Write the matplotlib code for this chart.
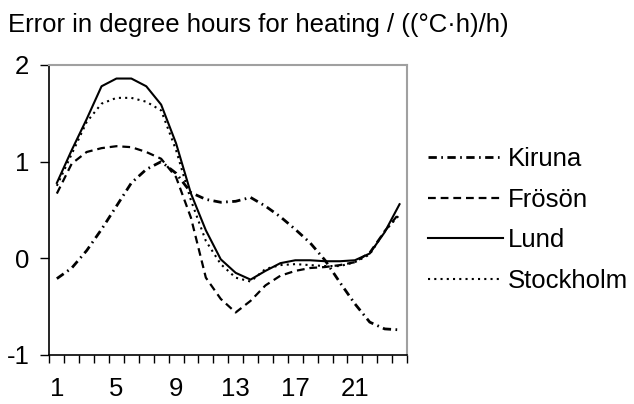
import matplotlib
matplotlib.use("Agg")
import matplotlib.pyplot as plt
from matplotlib.ticker import FixedLocator, NullFormatter

plt.rcParams['font.family'] = ['Liberation Sans', 'DejaVu Sans']

hours = list(range(1, 25))
hour_labels = [1, 5, 9, 13, 17, 21]

kiruna = [-0.21, -0.10, 0.08, 0.30, 0.54, 0.78, 0.92, 1.00, 0.88, 0.68, 0.61, 0.58,
          0.59, 0.63, 0.54, 0.43, 0.30, 0.16, -0.02, -0.25, -0.47, -0.66, -0.73, -0.74]
froson = [0.67, 0.98, 1.10, 1.14, 1.16, 1.15, 1.10, 1.03, 0.84, 0.42, -0.20, -0.42,
          -0.56, -0.44, -0.28, -0.18, -0.13, -0.10, -0.09, -0.07, -0.04, 0.06, 0.28, 0.47]
lund = [0.78, 1.12, 1.44, 1.78, 1.86, 1.86, 1.78, 1.59, 1.19, 0.67, 0.29, -0.01,
        -0.15, -0.22, -0.13, -0.05, -0.02, -0.02, -0.03, -0.03, -0.02, 0.05, 0.27, 0.56]
stockholm = [0.75, 1.08, 1.41, 1.60, 1.66, 1.66, 1.62, 1.53, 1.12, 0.60, 0.18, -0.06,
             -0.20, -0.24, -0.11, -0.07, -0.06, -0.07, -0.08, -0.08, -0.04, 0.04, 0.28, 0.45]

fs = 18.5

fig = plt.figure(figsize=(6.34, 4.04), dpi=100)
ax = fig.add_axes([49.4 / 634, 1 - 355 / 404, (407 - 49.4) / 634, (355 - 65) / 404])

ax.plot(hours, kiruna, color='black', lw=2.0, dashes=(3, 1.6, 0.6, 1.6), label='Kiruna')
ax.plot(hours, froson, color='black', lw=1.6, dashes=(3.5, 2.2), label='Frösön')
ax.plot(hours, lund, color='black', lw=1.5, label='Lund')
ax.plot(hours, stockholm, color='black', lw=1.5, dashes=(1, 2), label='Stockholm')

ax.set_xlim(0.5, 24.5)
ax.set_ylim(-1, 2)
ax.set_yticks([-1, 0, 1, 2])
ax.set_yticklabels(['-1', '0', '1', '2'])
ax.set_xticks(hour_labels)
ax.set_xticklabels([str(h) for h in hour_labels])
ax.xaxis.set_minor_locator(FixedLocator([h - 0.5 for h in hours] + [24.5]))
ax.xaxis.set_minor_formatter(NullFormatter())
ax.tick_params(axis='x', which='major', length=0, pad=16, labelsize=fs)
ax.tick_params(axis='x', which='minor', length=6, width=1, direction='out')
ax.tick_params(axis='y', length=6.5, width=1, direction='out', pad=8, labelsize=fs)

for side in ['left', 'bottom']:
    ax.spines[side].set_color('black')
    ax.spines[side].set_linewidth(1.2)
for side in ['top', 'right']:
    ax.spines[side].set_color('#a0a0a0')
    ax.spines[side].set_linewidth(1.5)

fig.text(8 / 634, 1 - 32 / 404, 'Error in degree hours for heating / ((°C·h)/h)',
         fontsize=fs, ha='left', va='baseline')

fig.legend(loc='center left', bbox_to_anchor=(428 / 634, 1 - 220 / 404), frameon=False,
           fontsize=fs, handlelength=2.9, handletextpad=0.2, labelspacing=0.66,
           borderpad=0, borderaxespad=0)

fig.savefig('out.png', dpi=100)
